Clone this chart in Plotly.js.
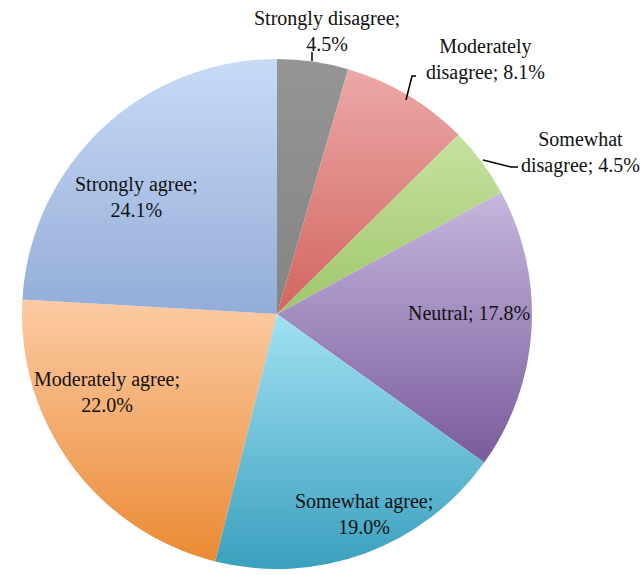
<!DOCTYPE html>
<html>
<head>
<meta charset="utf-8">
<script src="https://cdn.plot.ly/plotly-3.0.1.min.js"></script>
<style>
  html, body { margin: 0; padding: 0; background: #ffffff; }
  #chart { width: 643px; height: 575px; }
</style>
</head>
<body>
<div id="chart"></div>
<script>
// Survey responses, share of respondents (%)
const categories = [
  "Strongly disagree",
  "Moderately disagree",
  "Somewhat disagree",
  "Neutral",
  "Somewhat agree",
  "Moderately agree",
  "Strongly agree"
];
const shares = [4.5, 8.1, 4.5, 17.8, 19.0, 22.0, 24.1];

// Slice colours: flat fill plus light (top) and dark (bottom) gradient stops
const sliceColors = ["#8f8f8f", "#e08e8b", "#b7d78b", "#a08ac0", "#6ec2da", "#f2ad6e", "#aec4ea"];
const gradTop     = ["#959595", "#eba9a7", "#c6e29f", "#c5b7dd", "#a2e1f3", "#fbcba4", "#c8daf6"];
const gradBottom  = ["#848484", "#d2655f", "#9fc66c", "#7a5b9d", "#3aa0be", "#eb8a33", "#93add8"];

// Label placement (page pixels): text anchor centre, optional leader polyline
const W = 643, H = 575;
const labelSpots = [
  { x: 327, y: 31, lines: ["Strongly disagree;", "{v}"], leader: [[312, 52], [312, 61]] },
  { x: 485, y: 60, lines: ["Moderately", "disagree; {v}"], leader: [[416, 76], [412, 76], [406, 100]] },
  { x: 580, y: 152, lines: ["Somewhat", "disagree; {v}"], leader: [[518, 167], [511, 167], [483, 160]] },
  { x: 469, y: 313, lines: ["Neutral; {v}"] },
  { x: 364, y: 514, lines: ["Somewhat agree;", "{v}"] },
  { x: 107, y: 392, lines: ["Moderately agree;", "{v}"] },
  { x: 136, y: 197, lines: ["Strongly agree;", "{v}"] }
];

const px = v => v / W;
const py = v => 1 - v / H;

// Pie geometry: centre and radius in page pixels
const cx = 277, cy = 314, r = 255;

const trace = {
  type: "pie",
  labels: categories,
  values: shares,
  sort: false,
  direction: "clockwise",
  rotation: 0,
  textinfo: "none",
  hoverinfo: "label+percent",
  marker: { colors: sliceColors, line: { width: 0 } },
  domain: { x: [px(cx - r), px(cx + r)], y: [py(cy + r), py(cy - r)] },
  showlegend: false
};

const annotations = categories.map((c, i) => {
  const s = labelSpots[i];
  const txt = s.lines.map(l => l.replace("{v}", shares[i].toFixed(1) + "%")).join("<br>");
  return {
    xref: "paper", yref: "paper",
    x: px(s.x), y: py(s.y),
    xanchor: "center", yanchor: "middle",
    text: txt, showarrow: false, align: "center",
    font: { family: "Liberation Serif, Times New Roman, serif", size: 20, color: "#111111" }
  };
});

const shapes = labelSpots.filter(s => s.leader).map(s => ({
  type: "path", xref: "paper", yref: "paper",
  path: s.leader.map((p, k) => (k ? "L" : "M") + px(p[0]) + "," + py(p[1])).join(" "),
  line: { color: "#000000", width: 1.5 }
}));

const layout = {
  width: W, height: H,
  margin: { l: 0, r: 0, t: 0, b: 0 },
  paper_bgcolor: "#ffffff",
  plot_bgcolor: "#ffffff",
  annotations: annotations,
  shapes: shapes
};

Plotly.newPlot("chart", [trace], layout, { displayModeBar: false, staticPlot: true }).then(gd => {
  // Vertical light-to-dark shading on each slice
  const svg = gd.querySelector("svg.main-svg");
  const NS = "http://www.w3.org/2000/svg";
  let defs = svg.querySelector("defs");
  if (!defs) { defs = document.createElementNS(NS, "defs"); svg.insertBefore(defs, svg.firstChild); }
  gd.querySelectorAll(".pielayer .slice path.surface").forEach((p, i) => {
    const g = document.createElementNS(NS, "linearGradient");
    g.setAttribute("id", "sliceGrad" + i);
    g.setAttribute("x1", "0"); g.setAttribute("y1", "0");
    g.setAttribute("x2", "0"); g.setAttribute("y2", "1");
    [[0, gradTop[i]], [1, gradBottom[i]]].forEach(([o, col]) => {
      const st = document.createElementNS(NS, "stop");
      st.setAttribute("offset", o);
      st.setAttribute("stop-color", col);
      g.appendChild(st);
    });
    defs.appendChild(g);
    p.style.fill = "url(#sliceGrad" + i + ")";
  });
});
</script>
</body>
</html>
